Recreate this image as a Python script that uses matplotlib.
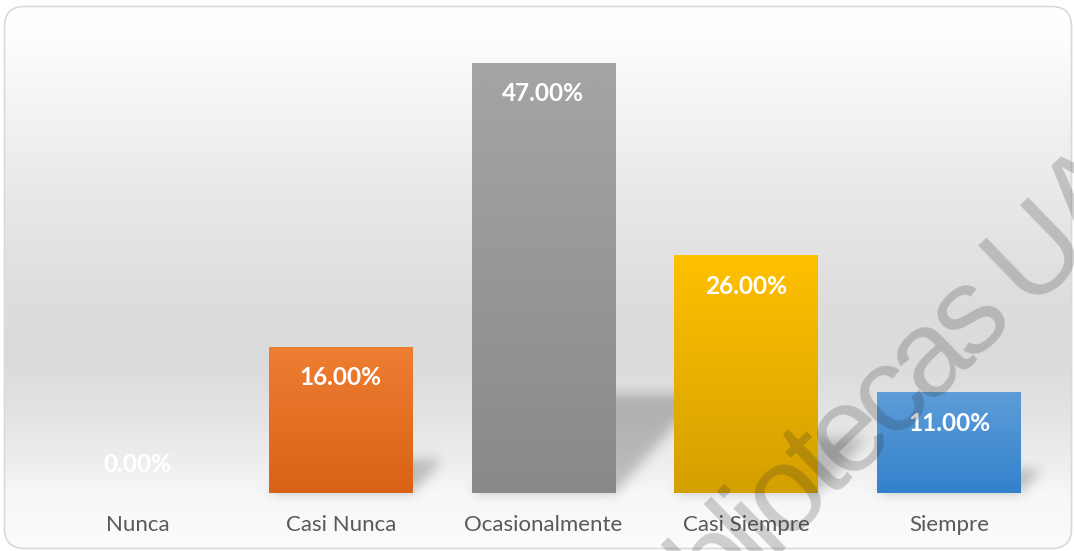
import numpy as np
import matplotlib
matplotlib.use("Agg")
import matplotlib.pyplot as plt
from matplotlib.patches import FancyBboxPatch
from matplotlib.colors import to_rgb
from matplotlib.font_manager import FontProperties, findfont
from matplotlib.ft2font import FT2Font

# ---- data -------------------------------------------------------------
categories = ["Nunca", "Casi Nunca", "Ocasionalmente", "Casi Siempre", "Siempre"]
percentages = [0.0, 16.0, 47.0, 26.0, 11.0]
top_colors = ["#5b9bd5", "#ee7e33", "#a5a5a5", "#ffc000", "#5d9dd8"]
bottom_colors = ["#3381cc", "#da6214", "#898989", "#d4a000", "#3381cc"]
watermark = "Bibliotecas UAEM"

# ---- canvas -----------------------------------------------------------
W, H, DPI = 1074, 551, 100
fig = plt.figure(figsize=(W / DPI, H / DPI), dpi=DPI)
fig.patch.set_facecolor("white")

# background layer in pixel units (origin top-left)
bg = fig.add_axes([0, 0, 1, 1], zorder=0)
bg.axis("off")

stops_y = [6, 40, 110, 200, 300, 360, 420, 470, 493, 551]
stops_v = [255, 253, 243, 232, 221, 219, 228, 240, 247, 252]
rows = np.arange(H) + 0.5
levels = np.interp(rows, stops_y, stops_v) / 255.0
grad = np.repeat(levels[:, None], 2, axis=1)
grad_rgb = np.dstack([grad] * 3)

frame = FancyBboxPatch((4.5, 6.5), 1067, 542,
                       boxstyle="round,pad=0,rounding_size=20",
                       facecolor="none", edgecolor="#d9d9d9", lw=1.2, zorder=5)
bg.add_patch(frame)
im = bg.imshow(grad_rgb, extent=[0, W, H, 0], aspect="auto", zorder=1,
               interpolation="bilinear")
im.set_clip_path(frame)

# ---- bar chart --------------------------------------------------------
left_px, right_px = 36.5, 1050.5
base_px, top_px = 493, 30
ax = fig.add_axes([left_px / W, (H - base_px) / H,
                   (right_px - left_px) / W, (base_px - top_px) / H], zorder=1)
ax.patch.set_alpha(0)

x = np.arange(len(categories))
bars = ax.bar(x, percentages, width=0.71, color="none", edgecolor="none")

for bar, c_top, c_bot in zip(bars, top_colors, bottom_colors):
    h = bar.get_height()
    if h <= 0:
        continue
    x0 = bar.get_x()
    x1 = x0 + bar.get_width()
    g = np.linspace(0, 1, 64)[:, None]
    rgb = (1 - g) * np.array(to_rgb(c_top)) + g * np.array(to_rgb(c_bot))
    img = ax.imshow(rgb[:, None, :].repeat(2, axis=1), extent=[x0, x1, 0, h],
                    aspect="auto", zorder=2, interpolation="bilinear")
    img.set_clip_path(bar)

ax.set_xlim(-0.5, len(categories) - 0.5)
ax.set_ylim(0, 50.6)

for xi, v in zip(x, percentages):
    off = -31 if v > 0 else 28
    ax.annotate(f"{v:.2f}%", xy=(xi, v), xytext=(0, off * 0.72),
                textcoords="offset points", ha="center", va="center",
                fontsize=17.6, fontweight="bold", color="white",
                family="Lato", zorder=4)

ax.set_xticks(x, categories)
ax.tick_params(axis="x", length=0, pad=15.5, labelsize=16, labelcolor="#595959")
for lbl in ax.get_xticklabels():
    lbl.set_family("Lato")
ax.set_yticks([])
for s in ax.spines.values():
    s.set_visible(False)

# ---- floor shadows cast by the bars -----------------------------------
mask = np.zeros((H, W))
cols = np.arange(W) + 0.5
for bar in bars:
    h = bar.get_height()
    if h <= 0:
        continue
    xa, yb = ax.transData.transform((bar.get_x(), 0))
    xb, yt = ax.transData.transform((bar.get_x() + bar.get_width(), h))
    base = H - yb
    hp = yt - yb
    hs, shift = 0.23 * hp, 0.2 * hp
    for r in range(int(base - hs), int(base)):
        t = (base - (r + 0.5)) / hs
        xl, xr = xa + t * shift, xb + t * shift
        mask[r] = np.maximum(mask[r], ((cols >= xl) & (cols <= xr)).astype(float))


def blur(a, sigma):
    r = int(3 * sigma)
    k = np.exp(-0.5 * (np.arange(-r, r + 1) / sigma) ** 2)
    k /= k.sum()
    a = np.apply_along_axis(lambda v: np.convolve(v, k, mode="same"), 0, a)
    a = np.apply_along_axis(lambda v: np.convolve(v, k, mode="same"), 1, a)
    return a


mask = blur(mask, 6)
shadow = np.zeros((H, W, 4))
shadow[..., 3] = 0.22 * mask
bg.imshow(shadow, extent=[0, W, H, 0], aspect="auto", zorder=2,
          interpolation="bilinear")
bg.set_xlim(0, W)
bg.set_ylim(H, 0)

# ---- watermark: tightly tracked diagonal text -------------------------
wm_size = 88          # points
wm_angle = 44         # degrees
wm_track = 8.0        # pixels removed between neighbouring glyphs
wm_start = (647.5, 674.0)   # baseline start, pixels from top-left

wm_prop = FontProperties(family="Liberation Sans", size=wm_size)
ft = FT2Font(findfont(wm_prop))
ft.set_size(wm_size, DPI)
advances = []
for ch in watermark:
    glyph = ft.load_char(ord(ch))
    advances.append(glyph.linearHoriAdvance / 65536)

ang = np.deg2rad(wm_angle)
dx, dy = np.cos(ang), -np.sin(ang)
pos = 0.0
for ch, adv in zip(watermark, advances):
    if ch != " ":
        px = wm_start[0] + pos * dx
        py = wm_start[1] + pos * dy
        fig.text(px / W, 1 - py / H, ch, rotation=wm_angle,
                 rotation_mode="anchor", ha="left", va="baseline",
                 fontproperties=wm_prop, color="#2e2e2e", alpha=0.22,
                 zorder=10)
    pos += adv - wm_track

fig.savefig("out.png", dpi=DPI)
